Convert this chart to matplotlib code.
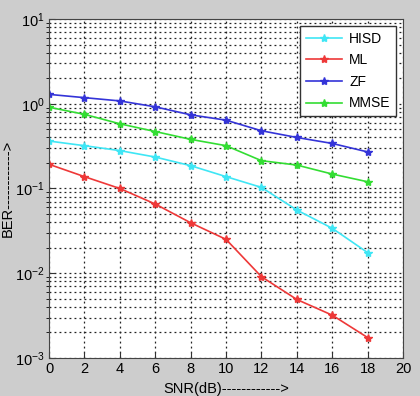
## Import Required Library

import matplotlib.pyplot as plt
from matplotlib.ticker import LogLocator, NullFormatter

plt.rcParams['font.family'] = ['Liberation Sans', 'DejaVu Sans']

## Create Data

snr = [0, 2, 4, 6, 8, 10, 12, 14, 16, 18]

hisd = [0.363, 0.32, 0.28, 0.235, 0.186, 0.138, 0.103, 0.0557, 0.0339, 0.0175]
ml = [0.193, 0.138, 0.100, 0.0656, 0.0394, 0.0251, 0.0091, 0.0049, 0.0032, 0.00174]
zf = [1.29, 1.18, 1.08, 0.92, 0.74, 0.64, 0.48, 0.40, 0.34, 0.27]
mmse = [0.91, 0.75, 0.58, 0.47, 0.38, 0.32, 0.213, 0.189, 0.148, 0.120]

x_ticks = [0, 2, 4, 6, 8, 10, 12, 14, 16, 18, 20]

## Create Figure

fig = plt.figure(figsize=(4.2, 3.96), dpi=100, facecolor="#cdcdcd")
ax = fig.add_axes([0.1167, 0.096, 0.843, 0.856])

## Plot Curves

ax.semilogy(snr, hisd, "-*", color="#3fe6f5", lw=1.2, ms=6, label="HISD")
ax.semilogy(snr, ml, "-*", color="#ee3838", lw=1.2, ms=6, label="ML")
ax.semilogy(snr, zf, "-*", color="#3434d8", lw=1.2, ms=6, label="ZF")
ax.semilogy(snr, mmse, "-*", color="#33dd33", lw=1.2, ms=6, label="MMSE")

## Axes Limits and Ticks

ax.set_xlim(0, 20)
ax.set_ylim(1e-3, 1e1)
ax.set_xticks(x_ticks)
ax.yaxis.set_major_locator(LogLocator(base=10, numticks=10))
ax.yaxis.set_minor_locator(LogLocator(base=10, subs=range(2, 10), numticks=50))
ax.yaxis.set_minor_formatter(NullFormatter())
ax.tick_params(labelsize=10.5, direction="in", length=4, color="#333333", pad=3)
ax.tick_params(which="minor", length=2)

## Grid Lines

ax.grid(True, which="major", color="#222222", linestyle=(0, (1.5, 2.5)), linewidth=0.9)
ax.grid(True, which="minor", axis="y", color="#222222", linestyle=(0, (1.5, 2.5)), linewidth=0.9)

for spine in ax.spines.values():
    spine.set_color("#444444")

## Labels

ax.set_xlabel("SNR(dB)------------>", fontsize=10.5, labelpad=4)
ax.set_ylabel("BER------------>", fontsize=10.5)
ax.yaxis.set_label_coords(-0.098, 0.5)

## Legend

leg = ax.legend(loc="upper right", fontsize=10, fancybox=False, framealpha=1,
                edgecolor="#333333", handlelength=2.6, borderaxespad=0.5,
                labelspacing=0.55, handletextpad=0.5)

## Save

fig.savefig("out.png", dpi=100, facecolor=fig.get_facecolor())
